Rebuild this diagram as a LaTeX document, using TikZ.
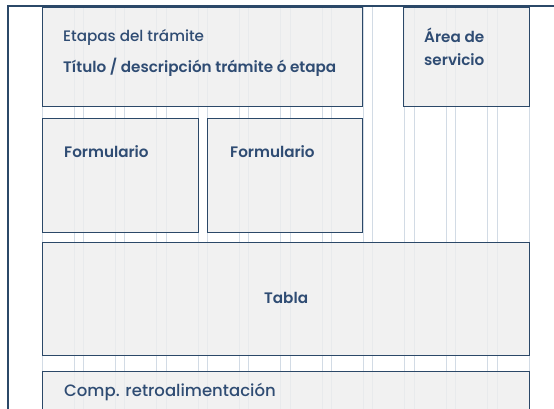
\documentclass[tikz,border=0pt]{standalone}
\usepackage{fontspec}
\setmainfont{Poppins Medium}[BoldFont={Poppins SemiBold}]
\usetikzlibrary{positioning}
\definecolor{framenavy}{HTML}{2B4868}
\definecolor{textnavy}{HTML}{2F4C73}
\definecolor{gridblue}{HTML}{D2DBE5}
\definecolor{boxgray}{HTML}{EEEEEE}
\tikzset{
  panel/.style={draw=framenavy,line width=1.2pt,fill=boxgray,fill opacity=0.8,
    draw opacity=1,inner sep=0pt,anchor=north west},
  gridline/.style={gridblue,line width=0.8pt},
  frameline/.style={framenavy,line width=1.1pt},
  lbl/.style={text=textnavy,inner sep=0pt,anchor=west,font=\fontsize{15.2}{18}\selectfont},
  lblbold/.style={lbl,font=\fontsize{15.2}{18}\selectfont\bfseries}
}
\begin{document}
\begin{tikzpicture}[x=1pt,y=-1pt]
    \useasboundingbox (0,0) rectangle (554,409);
    \clip (0,0) rectangle (554,409);
    % --- column grid
    \foreach \c in {0,...,11} {
      \pgfmathsetmacro{\xl}{42+\c*41.36}
      \draw[gridline] (\xl,6) -- (\xl,409);
      \draw[gridline] (\xl+32,6) -- (\xl+32,409);
    }
    % --- page frame
    \draw[frameline] (8,409) -- (8,6) -- (554,6);
    % --- panels
    \node[panel,minimum width=320,minimum height=99] (etapas) at (42,7) {};
    \node[panel,minimum width=126,minimum height=99] (area) at (403,7) {};
    \node[panel,minimum width=156,minimum height=114] (formA) at (42,118) {};
    \node[panel,minimum width=155,minimum height=114] (formB) at (207,118) {};
    \node[panel,minimum width=487,minimum height=113] (tabla) at (42,242) {};
    \node[panel,minimum width=487,minimum height=60] (comp) at (42,371) {};
    % --- texts
    \node[lbl] (etapastxt) at (63,37) {Etapas del trámite};
    \node[lblbold] (titulotxt) at (63,67) {Título / descripción trámite ó etapa};
    \node[lblbold,align=left,font=\fontsize{15.2}{23}\selectfont\bfseries] (areatxt)
      at (424,47) {Área de\\servicio};
    \node[lblbold] (formAtxt) at (64,152) {Formulario};
    \node[lblbold] (formBtxt) at (230,152) {Formulario};
    \node[lblbold,anchor=center] (tablatxt) at ([yshift=1.5]tabla.center) {Tabla};
    \node[lbl,font=\fontsize{16.5}{19}\selectfont] (comptxt) at (64,392) {Comp. retroalimentación};
\end{tikzpicture}
\end{document}
